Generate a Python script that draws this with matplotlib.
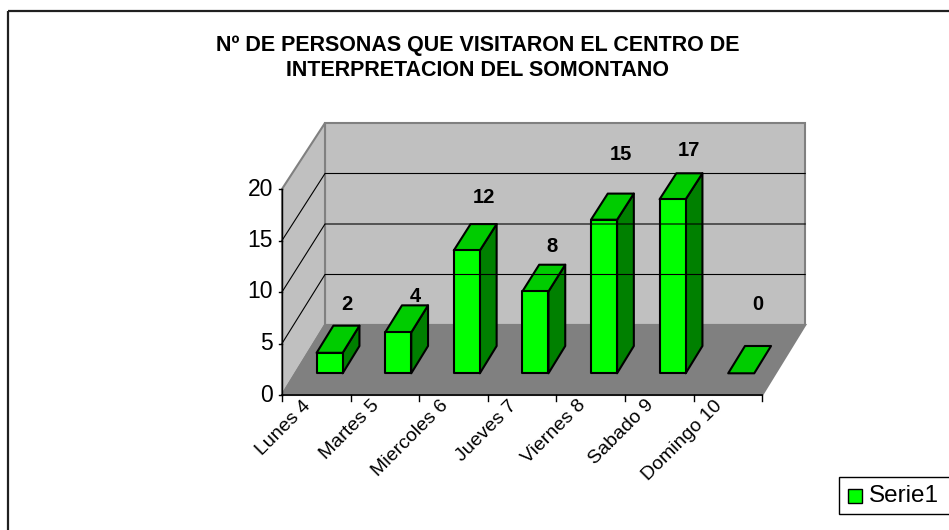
import matplotlib.pyplot as plt
from matplotlib.patches import Polygon, Rectangle

plt.rcParams['font.family'] = ['Liberation Sans', 'DejaVu Sans']

days = ['Lunes 4', 'Martes 5', 'Miercoles 6', 'Jueves 7', 'Viernes 8', 'Sabado 9', 'Domingo 10']
visitors = [2, 4, 12, 8, 15, 17, 0]
value_ticks = [0, 5, 10, 15, 20]
series_name = 'Serie1'
title = 'Nº DE PERSONAS QUE VISITARON EL CENTRO DE\nINTERPRETACION DEL SOMONTANO'

# fake excel 3d box, everything in pixels (y down)
X0, Y0 = 282, 395          # front-left corner of the floor
CAT_W = 68.6               # width of one category on the floor
DX, DY = 43, -70           # depth vector front -> back
VMAX = value_ticks[-1]
# extra lift of each data label above its bar (excel puts them a bit randomly)
label_lift = [21, 9, 27, 18, 39, 23, 41]


def proj(u, v, d):
    x = X0 + u * CAT_W + d * DX
    y = Y0 + d * DY - v * (10.3 - 0.2 * d)
    return x, y


def face(pts, **kw):
    ax.add_patch(Polygon([proj(*p) for p in pts], closed=True, **kw))


fig = plt.figure(figsize=(9.49, 5.30), dpi=100)
ax = fig.add_axes([0, 0, 1, 1])
ax.set_xlim(0, 949)
ax.set_ylim(530, 0)
ax.axis('off')

# chart area border (right/bottom fall outside the picture)
ax.add_patch(Rectangle((8, 11), 960, 540, fill=False, ec='#202020', lw=1.6))

ax.text(478, 58, title, ha='center', va='center', fontsize=15.5, fontweight='bold', linespacing=1.3)

n = len(days)
# walls and floor
face([(0, 0, 1), (n, 0, 1), (n, VMAX, 1), (0, VMAX, 1)], fc='#C0C0C0', ec='#808080', lw=1.5)
face([(0, 0, 0), (0, 0, 1), (0, VMAX, 1), (0, VMAX, 0)], fc='#C0C0C0', ec='#808080', lw=1.5)
face([(0, 0, 0), (n, 0, 0), (n, 0, 1), (0, 0, 1)], fc='#808080', ec='#808080', lw=1.5)

# gridlines on back and side wall
for v in value_ticks[1:-1]:
    xs, ys = zip(proj(0, v, 0), proj(0, v, 1), proj(n, v, 1))
    ax.plot(xs, ys, color='black', lw=0.8)

# value axis
xs, ys = zip(proj(0, 0, 0), proj(0, VMAX, 0))
ax.plot(xs, ys, color='black', lw=1)
for v in value_ticks:
    x, y = proj(0, v, 0)
    ax.plot([x - 3, x], [y, y], color='black', lw=1)
    ax.text(x - 9, y, str(v), ha='right', va='center', fontsize=16.5)

# category axis
xs, ys = zip(proj(0, 0, 0), proj(n, 0, 0))
ax.plot(xs, ys, color='black', lw=1.2)
for i in range(n + 1):
    x, y = proj(i, 0, 0)
    ax.plot([x, x], [y, y + 6], color='black', lw=1)
for i, day in enumerate(days):
    x, y = proj(i + 0.5, 0, 0)
    ax.text(x - 8, y + 8, day, ha='right', va='center', rotation=45,
            rotation_mode='anchor', fontsize=14)

# bars
bw = 0.19          # half width in category units
d0, d1 = 0.31, 0.70
for i, v in enumerate(visitors):
    u0, u1 = i + 0.5 - bw, i + 0.5 + bw
    edge = dict(ec='black', lw=1.5, joinstyle='round')
    if v > 0:
        face([(u1, 0, d0), (u1, 0, d1), (u1, v, d1), (u1, v, d0)], fc='#008000', **edge)
    face([(u0, v, d0), (u1, v, d0), (u1, v, d1), (u0, v, d1)], fc='#00CC00', **edge)
    if v > 0:
        face([(u0, 0, d0), (u1, 0, d0), (u1, v, d0), (u0, v, d0)], fc='#00FF00', **edge)
    x, y = proj(i + 0.5, v, d1)
    ax.text(x, y - label_lift[i], str(v), ha='center', va='center', fontsize=14.5, fontweight='bold')

# legend
ax.add_patch(Rectangle((839, 477), 130, 37, fc='white', ec='black', lw=1))
ax.add_patch(Rectangle((848, 489), 14, 14, fc='#00FF00', ec='black', lw=1))
ax.text(869, 496, series_name, ha='left', va='center', fontsize=17.5)

fig.savefig('out.png', dpi=100)
